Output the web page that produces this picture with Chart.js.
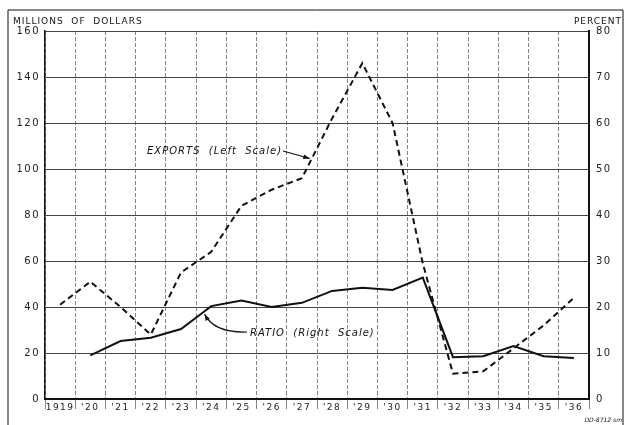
<!DOCTYPE html>
<html>
<head>
<meta charset="utf-8">
<script src="https://cdn.jsdelivr.net/npm/chart.js@4/dist/chart.umd.min.js"></script>
<style>
  html, body { margin: 0; padding: 0; background: #fff; }
  #wrap { width: 625px; height: 425px; position: relative; }
</style>
</head>
<body>
<div id="wrap"><canvas id="c" width="625" height="425"></canvas></div>
<script>
// ---- Data ----
const years = ["1919","'20","'21","'22","'23","'24","'25","'26","'27","'28","'29","'30","'31","'32","'33","'34","'35","'36"];
const exports = [41, 51, 40, 28, 55, 64, 84, 91, 96, 122, 146, 120, 59, 11, 12, 22, 32, 44];   // millions of dollars (left scale)
const ratio   = [null, 9.5, 12.6, 13.3, 15.2, 20.2, 21.4, 20, 20.9, 23.5, 24.2, 23.7, 26.4, 9.1, 9.3, 11.5, 9.3, 8.9]; // percent (right scale)
const leftTicks = [0, 20, 40, 60, 80, 100, 120, 140, 160];
const rightTicks = [0, 10, 20, 30, 40, 50, 60, 70, 80];

const FONT = "'DejaVu Sans', sans-serif";

const decor = {
  id: 'decor',
  beforeDraw(chart) {
    chart.ctx.letterSpacing = '1.5px';
  },
  afterDraw(chart) {
    const ctx = chart.ctx;
    const x = chart.scales.x, yL = chart.scales.yL;
    ctx.save();
    ctx.fillStyle = '#111';
    ctx.strokeStyle = '#111';
    // outer frame
    ctx.lineWidth = 1;
    ctx.beginPath();
    ctx.moveTo(8, 425); ctx.lineTo(8, 10); ctx.lineTo(623, 10); ctx.lineTo(623, 425);
    ctx.stroke();
    // axis titles
    ctx.letterSpacing = '1px';
    ctx.font = "9px " + FONT;
    ctx.textBaseline = 'middle';
    ctx.textAlign = 'left';
    ctx.fillText('MILLIONS  OF  DOLLARS', 13, 22);
    ctx.textAlign = 'right';
    ctx.fillText('PERCENT', 622, 22);
    // code mark
    ctx.letterSpacing = '0px';
    ctx.font = "italic 6px " + FONT;
    ctx.fillText('DD-8712 sm', 622, 420);

    // annotation: EXPORTS
    ctx.letterSpacing = '1px';
    ctx.font = "italic 10px " + FONT;
    ctx.textAlign = 'left';
    ctx.fillText('EXPORTS  (Left  Scale)', 147, 151);
    // arrow to exports line
    const ex1 = x.getPixelForValue(8), ex2 = x.getPixelForValue(9);
    const ey1 = yL.getPixelForValue(exports[8]), ey2 = yL.getPixelForValue(exports[9]);
    const t = 0.33;
    const tipX = ex1 + (ex2 - ex1) * t, tipY = ey1 + (ey2 - ey1) * t;
    ctx.lineWidth = 1.2;
    ctx.beginPath();
    ctx.moveTo(283, 151); ctx.lineTo(tipX - 2, tipY);
    ctx.stroke();
    drawHead(ctx, 283, 151, tipX - 2, tipY);

    // annotation: RATIO
    ctx.fillText('RATIO  (Right  Scale)', 250, 333);
    const rx1 = x.getPixelForValue(4), rx2 = x.getPixelForValue(5);
    const yR = chart.scales.yR;
    const ry1 = yR.getPixelForValue(ratio[4]), ry2 = yR.getPixelForValue(ratio[5]);
    const t2 = 0.78;
    const rtX = rx1 + (rx2 - rx1) * t2, rtY = ry1 + (ry2 - ry1) * t2 + 3;
    ctx.beginPath();
    ctx.moveTo(247, 332);
    ctx.quadraticCurveTo(214, 333, rtX, rtY);
    ctx.stroke();
    drawHead(ctx, 212, 328, rtX, rtY);
    ctx.restore();
  }
};

function drawHead(ctx, fx, fy, tx, ty) {
  const a = Math.atan2(ty - fy, tx - fx);
  const L = 7, W = 0.35;
  ctx.beginPath();
  ctx.moveTo(tx, ty);
  ctx.lineTo(tx - L * Math.cos(a - W), ty - L * Math.sin(a - W));
  ctx.lineTo(tx - L * Math.cos(a + W), ty - L * Math.sin(a + W));
  ctx.closePath();
  ctx.fill();
}

new Chart(document.getElementById('c'), {
  type: 'line',
  data: {
    labels: years,
    datasets: [
      {
        label: 'Exports',
        data: exports,
        yAxisID: 'yL',
        borderColor: '#111',
        borderWidth: 2,
        borderDash: [6, 4],
        pointRadius: 0,
        tension: 0,
        fill: false
      },
      {
        label: 'Ratio',
        data: ratio,
        yAxisID: 'yR',
        borderColor: '#111',
        borderWidth: 2,
        pointRadius: 0,
        tension: 0,
        fill: false,
        spanGaps: false
      }
    ]
  },
  options: {
    responsive: false,
    animation: false,
    devicePixelRatio: 1,
    layout: { padding: { top: 31, left: 0, right: 0, bottom: 0 } },
    plugins: { legend: { display: false }, tooltip: { enabled: false } },
    scales: {
      x: {
        offset: true,
        grid: { offset: true, color: '#666', lineWidth: 0.8, drawTicks: true, tickLength: 10, tickColor: '#666' },
        border: { display: true, color: '#111', width: 2, dash: [4, 2] },
        ticks: { color: '#222', font: { family: FONT, size: 9 }, padding: -7, maxRotation: 0, autoSkip: false },
        afterFit(s) { s.height = 26; }
      },
      yL: {
        position: 'left',
        min: 0, max: 160,
        afterBuildTicks(s) { s.ticks = leftTicks.map(v => ({ value: v })); },
        grid: { color: '#444', lineWidth: 1, drawTicks: false },
        border: { display: true, color: '#111', width: 1.5 },
        ticks: { color: '#222', font: { family: FONT, size: 10 }, padding: 5 },
        afterFit(s) { s.width = 45; }
      },
      yR: {
        position: 'right',
        min: 0, max: 80,
        afterBuildTicks(s) { s.ticks = rightTicks.map(v => ({ value: v })); },
        grid: { drawOnChartArea: false, drawTicks: false },
        border: { display: true, color: '#111', width: 2 },
        ticks: { color: '#222', font: { family: FONT, size: 10 }, padding: 7 },
        afterFit(s) { s.width = 36; }
      }
    }
  },
  plugins: [decor]
});
</script>
</body>
</html>
